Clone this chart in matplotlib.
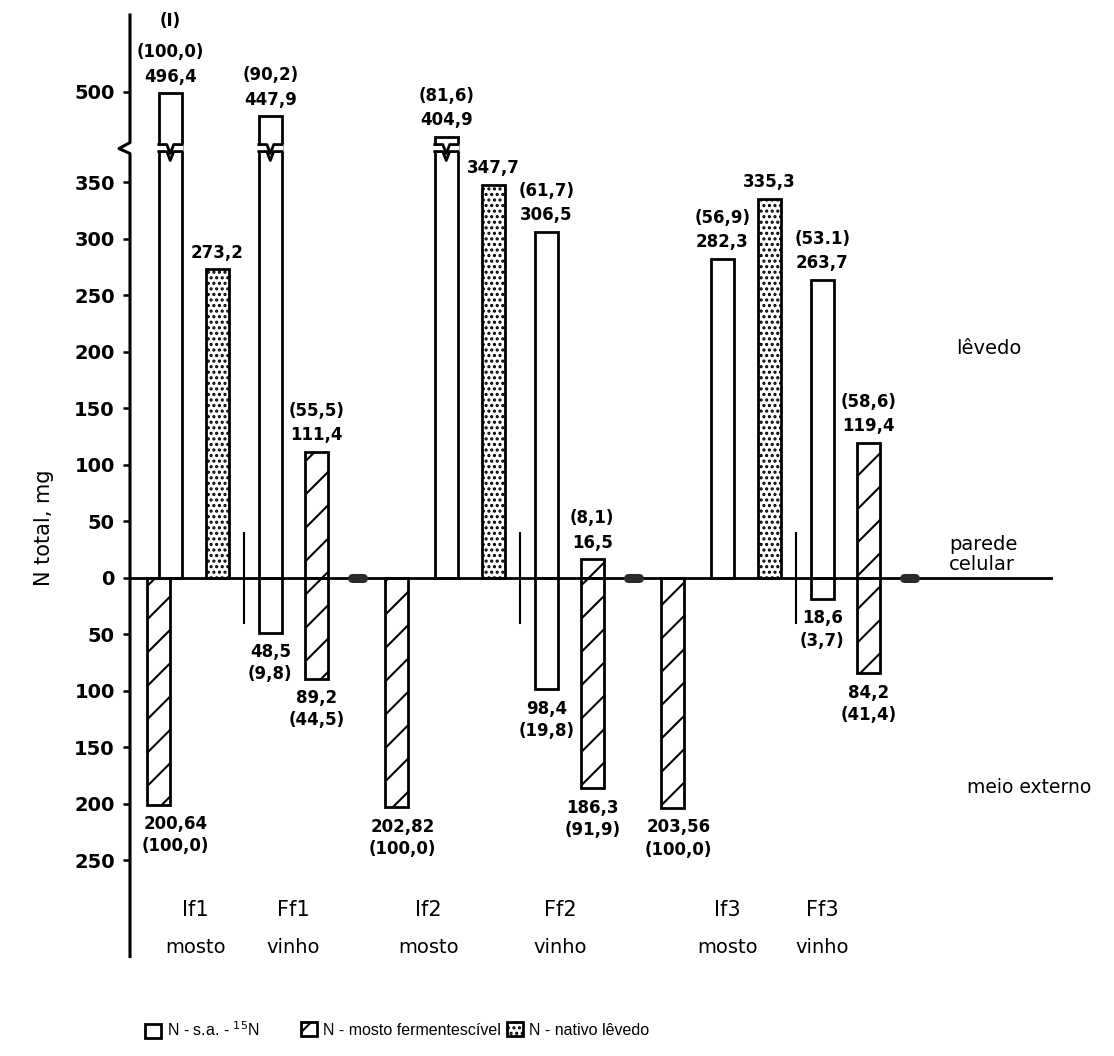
import numpy as np
import matplotlib
matplotlib.use("Agg")
import matplotlib.pyplot as plt
from matplotlib.patches import Patch, Polygon

# ---------------- data: total N (mg) ----------------
run_names = ["1", "2", "3"]
if_labels = ["If1", "If2", "If3"]
ff_labels = ["Ff1", "Ff2", "Ff3"]
if_stage = "mosto"
ff_stage = "vinho"

# initial fermentation stage (mosto)
if_sa_up = [496.4, 404.9, 282.3]                 # N-s.a.-15N in yeast
if_sa_up_pct = ["(100,0)", "(81,6)", "(56,9)"]
if_mosto_down = [200.64, 202.82, 203.56]         # N-mosto in external medium
if_mosto_down_pct = ["(100,0)", "(100,0)", "(100,0)"]
if_nativo_up = [273.2, 347.7, 335.3]             # native yeast N

# final fermentation stage (vinho)
ff_sa_up = [447.9, 306.5, 263.7]
ff_sa_up_pct = ["(90,2)", "(61,7)", "(53.1)"]
ff_sa_down = [48.5, 98.4, 18.6]
ff_sa_down_pct = ["(9,8)", "(19,8)", "(3,7)"]
ff_mosto_up = [111.4, 16.5, 119.4]
ff_mosto_up_pct = ["(55,5)", "(8,1)", "(58,6)"]
ff_mosto_down = [89.2, 186.3, 84.2]
ff_mosto_down_pct = ["(44,5)", "(91,9)", "(41,4)"]

y_ticks = [-250, -200, -150, -100, -50, 0, 50, 100, 150, 200, 250, 300, 350, 500]
legend_labels = [r"N - s.a. - $^{15}$N", "N - mosto fermentescível", "N - nativo lêvedo"]
zone_labels = ["lêvedo", "parede\ncelular", "meio externo"]
first_run_note = "(I)"

# ---------------- layout (x in bar-width units) ----------------
W = 1.0
run_x = np.array([9.9, 21.9, 33.9])       # separator capsule of each run
off_if_mosto = np.array([-8.65, -10.3, -10.3])
off_if_sa = -8.15
off_if_nat = -6.1
off_ff_tick = -4.95
off_ff_sa = -3.8
off_ff_mosto = -1.8
if_name_x = np.array([2.83, 12.96, 25.96])
ff_name_x = np.array([7.09, 18.70, 30.09])
legend_x_px = [145, 301, 507]

# broken y scale: linear up to B, compressed above
B, C = 380.0, 0.42


def fwd(y):
    y = np.asarray(y, dtype=float)
    return np.where(y <= B, y, B + (y - B) * C)


def inv(t):
    t = np.asarray(t, dtype=float)
    return np.where(t <= B, t, B + (t - B) / C)


def fmt(v):
    return str(v).replace(".", ",")


plt.rcParams["font.family"] = ["DejaVu Sans"]
plt.rcParams["hatch.linewidth"] = 1.5

fig = plt.figure(figsize=(11.14, 10.56), dpi=100)
ax = fig.add_axes([130 / 1114, 0.0942, 923 / 1114, 0.8916])
ax.set_yscale("function", functions=(fwd, inv))
ax.set_xlim(0, 923 / 23)
ax.set_ylim(-335, float(inv(498.2)))

for s in ax.spines.values():
    s.set_visible(False)

edge = dict(edgecolor="black", linewidth=2.0, zorder=2)
open_kw = dict(facecolor="white", **edge)
hatch_kw = dict(facecolor="white", hatch="/", **edge)
stip_kw = dict(facecolor="white", hatch="...", **edge)

x_if_mosto = run_x + off_if_mosto
x_if_sa = run_x + off_if_sa
x_if_nat = run_x + off_if_nat
x_ff_sa = run_x + off_ff_sa
x_ff_mosto = run_x + off_ff_mosto

ax.bar(x_if_mosto, -np.array(if_mosto_down), W, **hatch_kw)
ax.bar(x_if_sa, if_sa_up, W, **open_kw)
ax.bar(x_if_nat, if_nativo_up, W, **stip_kw)
ax.bar(x_ff_sa, ff_sa_up, W, **open_kw)
ax.bar(x_ff_sa, -np.array(ff_sa_down), W, **open_kw)
ax.bar(x_ff_mosto, ff_mosto_up, W, **hatch_kw)
ax.bar(x_ff_mosto, -np.array(ff_mosto_down), W, **hatch_kw)

# zero line, run separators
ax.axhline(0, color="black", lw=2.0, zorder=3)
for xr in run_x:
    ax.plot([xr - 0.25, xr + 0.25], [0, 0], color="#2a2a2a", lw=6.5,
            solid_capstyle="round", zorder=4)
    ax.plot([xr + off_ff_tick] * 2, [-40, 40], color="black", lw=1.5, zorder=3)

# break marks on bars taller than the break
PX = 1 / 1.13


def zig(x0, t):
    fr = np.array([0, 0.35, 0.5, 0.65, 1.0])
    dy = np.array([0, 0, -9, 0, 0]) * PX
    return x0 + fr * W, t + dy


for xb, v in [(x_if_sa[0], if_sa_up[0]), (x_if_sa[1], if_sa_up[1]), (x_ff_sa[0], ff_sa_up[0])]:
    if v <= B:
        continue
    x0 = xb - W / 2
    tu, tl = B + 4 * PX, B - 3 * PX
    xu, yu = zig(x0, tu)
    xl, yl = zig(x0, tl)
    pad = 0.08
    poly_x = np.concatenate([[x0 - pad], xu, [x0 + W + pad, x0 + W + pad], xl[::-1], [x0 - pad]])
    poly_y = np.concatenate([[tu], yu, [tu, tl], yl[::-1], [tl]])
    ax.add_patch(Polygon(np.column_stack([poly_x, inv(poly_y)]), closed=True,
                         facecolor="white", edgecolor="none", zorder=5))
    ax.plot(xu, inv(yu), color="black", lw=2.0, zorder=6)
    ax.plot(xl, inv(yl), color="black", lw=2.0, zorder=6)

# axis line with break
tr = ax.get_yaxis_transform()
t_top = 498.2
ax_line_t = np.array([-335, B - 5 * PX, B, B + 6 * PX, t_top])
ax_line_x = np.array([0, 0, -11 / 923, 0, 0])
ax.plot(ax_line_x, inv(ax_line_t), color="black", lw=2.2, transform=tr,
        clip_on=False, zorder=6)

ax.set_xticks([])
ax.set_yticks(y_ticks)
ax.set_yticklabels([str(abs(t)) for t in y_ticks], fontsize=14, fontweight="bold")
ax.tick_params(axis="y", direction="out", length=5, width=1.8, pad=6)
ax.minorticks_off()
ax.set_ylabel("N total, mg", fontsize=15)
ax.yaxis.set_label_coords(-76 / 923, 0.455)

lab = dict(ha="center", va="center", fontsize=12, fontweight="bold",
           textcoords="offset points", zorder=7, annotation_clip=False)


def above(x, v, extra):
    lines = [fmt(v)] + extra
    offs = [12, 29.5, 52]
    for s, o in zip(lines, offs):
        ax.annotate(s, (x, v), xytext=(0, o), **lab)


def below(x, v, pct, dx=0):
    ax.annotate(fmt(v), (x, -v), xytext=(dx, -14), **lab)
    ax.annotate(pct, (x, -v), xytext=(dx, -30), **lab)


for i in range(3):
    above(x_if_sa[i], if_sa_up[i], [if_sa_up_pct[i]] + ([first_run_note] if i == 0 else []))
    above(x_if_nat[i], if_nativo_up[i], [])
    above(x_ff_sa[i], ff_sa_up[i], [ff_sa_up_pct[i]])
    above(x_ff_mosto[i], ff_mosto_up[i], [ff_mosto_up_pct[i]])
    below(x_if_mosto[i], if_mosto_down[i], if_mosto_down_pct[i], dx=12 if i == 0 else 4)
    below(x_ff_sa[i], ff_sa_down[i], ff_sa_down_pct[i])
    below(x_ff_mosto[i], ff_mosto_down[i], ff_mosto_down_pct[i])

    for xc, name, stage in [(if_name_x[i], if_labels[i], if_stage),
                            (ff_name_x[i], ff_labels[i], ff_stage)]:
        ax.text(xc, -294, name, ha="center", va="center", fontsize=15, clip_on=False)
        ax.text(xc, -327, stage, ha="center", va="center", fontsize=14, clip_on=False)

ax.text(35.9, 203, zone_labels[0], ha="left", va="center", fontsize=14, clip_on=False)
ax.text(35.6, 21, zone_labels[1], ha="left", va="center", fontsize=14,
        linespacing=1.05, clip_on=False)
ax.text(36.4, -185, zone_labels[2], ha="left", va="center", fontsize=13.5, clip_on=False)

handles = [Patch(facecolor="white", edgecolor="black", lw=2),
           Patch(facecolor="white", edgecolor="black", lw=2, hatch="/"),
           Patch(facecolor="white", edgecolor="black", lw=2, hatch="...")]
for h, text, xp in zip(handles, legend_labels, legend_x_px):
    fig.legend([h], [text], loc="center left",
               bbox_to_anchor=(xp / 1114, 1 - 1030 / 1056), frameon=False,
               prop=dict(family=["Liberation Sans", "DejaVu Sans"], size=11.5),
               handlelength=1.0, handleheight=1.0, handletextpad=0.4,
               borderpad=0.0, borderaxespad=0.0)

fig.savefig("out.png", dpi=100)
